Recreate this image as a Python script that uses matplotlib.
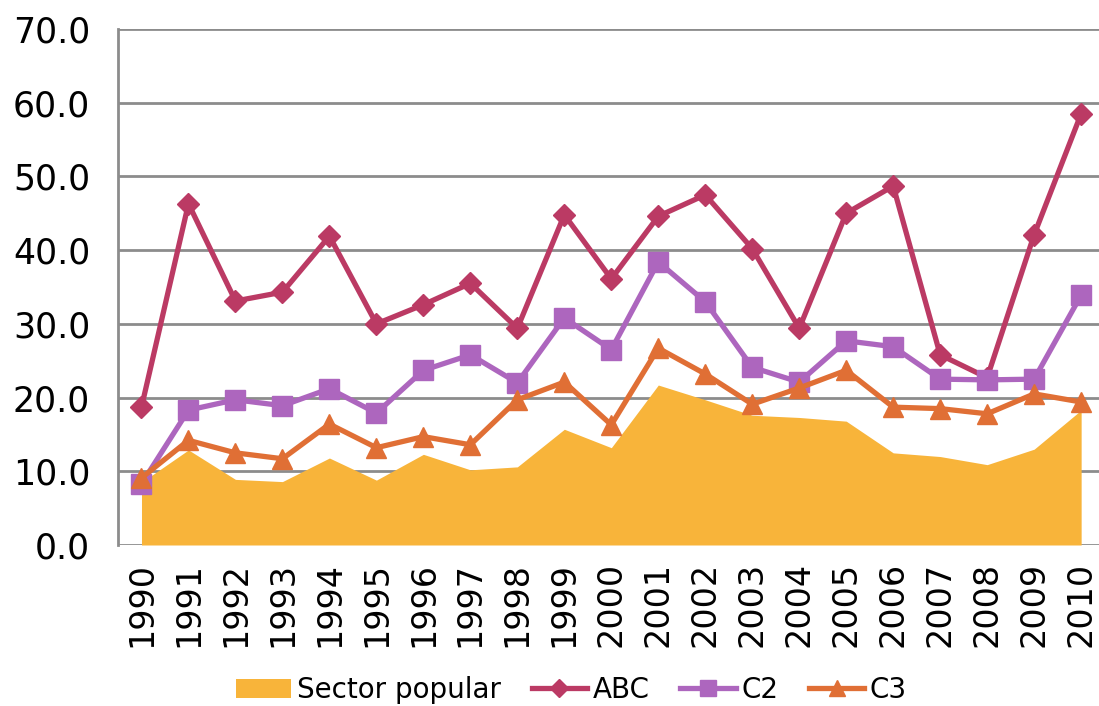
import numpy as np
import matplotlib.pyplot as plt

years = [str(y) for y in range(1990, 2011)]
sector = [8.5, 12.9, 8.9, 8.6, 11.8, 8.8, 12.3, 10.2, 10.6, 15.7, 13.2,
          21.7, 19.7, 17.6, 17.3, 16.8, 12.5, 12.0, 10.9, 13.0, 18.3]
abc = [18.7, 46.3, 33.1, 34.3, 41.9, 30.0, 32.6, 35.5, 29.4, 44.8, 36.1,
       44.6, 47.5, 40.2, 29.4, 45.0, 48.7, 25.8, 22.7, 42.1, 58.5]
c2 = [8.3, 18.3, 19.7, 18.9, 21.2, 17.9, 23.7, 25.8, 22.0, 30.8, 26.5,
      38.4, 33.0, 24.1, 22.1, 27.7, 26.9, 22.5, 22.4, 22.5, 33.9]
c3 = [9.1, 14.2, 12.5, 11.7, 16.4, 13.2, 14.7, 13.6, 19.7, 22.1, 16.3,
      26.7, 23.2, 19.1, 21.3, 23.7, 18.7, 18.5, 17.8, 20.5, 19.4]

x = np.arange(len(years))

fig = plt.figure(figsize=(10.99, 7.06), dpi=100)
ax = fig.add_axes([118 / 1099, 1 - 545 / 706, 1 - 118 / 1099, (545 - 29) / 706])

ax.fill_between(x, 0, sector, color="#F8B43A", lw=0, label="Sector popular", zorder=2)
ax.plot(x, abc, color="#BB3A64", lw=3.8, marker="D", ms=11, label="ABC", zorder=3)
ax.plot(x, c2, color="#AD66BE", lw=3.8, marker="s", ms=14, label="C2", zorder=4)
ax.plot(x, c3, color="#E06F35", lw=3.8, marker="^", ms=15, label="C3", zorder=5)

ax.set_ylim(0, 70)
ax.set_xlim(-0.5, 20.38)
ax.set_yticks(np.arange(0, 71, 10))
ax.set_yticklabels([f"{v:.1f}" for v in range(0, 71, 10)], fontsize=25)
ax.set_xticks(x)
ax.set_xticklabels(years, rotation=90, fontsize=24)
ax.tick_params(axis="y", length=0, pad=20)
ax.tick_params(axis="x", length=0, pad=12)

ax.grid(axis="y", color="#8C8C8C", lw=2, zorder=0)
ax.set_axisbelow(True)
for s in ["top", "right", "bottom"]:
    ax.spines[s].set_visible(False)
ax.spines["left"].set_color("#8C8C8C")
ax.spines["left"].set_linewidth(2)

fig.legend(loc="center", bbox_to_anchor=(0.52, 1 - 690 / 706), ncol=4, frameon=False,
           fontsize=20, handlelength=2.0, handletextpad=0.2, columnspacing=1.1,
           markerscale=0.8)

fig.savefig("out.png", dpi=100)
